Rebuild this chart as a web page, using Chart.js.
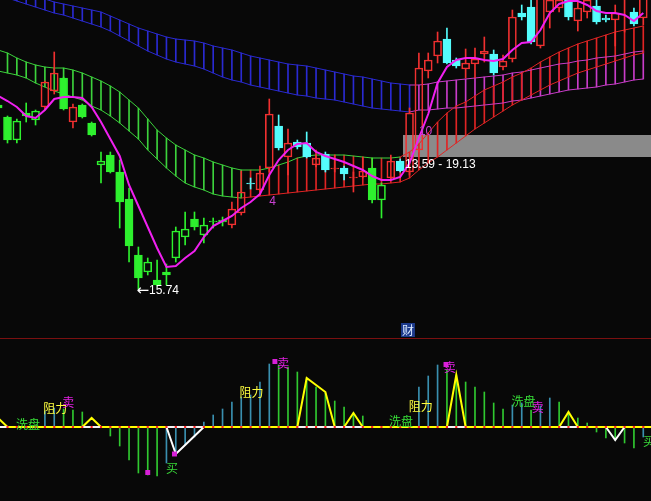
<!DOCTYPE html>
<html><head><meta charset="utf-8">
<script src="https://cdn.jsdelivr.net/npm/chart.js@4"></script>
<style>
html,body{margin:0;padding:0;background:#080808;overflow:hidden;width:651px;height:501px}
canvas{position:absolute;left:0}
#top{top:0}
#bot{top:338px}
</style></head><body>
<canvas id="top" width="651" height="338"></canvas>
<canvas id="bot" width="651" height="163"></canvas>
<script>
// ---------- price candles (index 0 is the partly visible first bar) ----------
const openP = [19.42,19.18,18.72,19.26,19.12,19.38,19.70,19.96,19.08,19.42,
19.06,18.22,18.42,18.08,17.54,16.42,16.08,15.92,16.08,16.36,
16.78,17.14,16.82,17.08,17.08,17.02,17.26,17.86,17.72,18.16,
19.00,18.38,18.68,18.66,18.22,18.44,18.14,18.16,17.96,17.98,
18.16,17.52,17.96,18.30,18.08,18.52,20.10,20.40,20.74,20.32,
20.14,20.24,20.44,20.44,20.18,20.34,21.26,21.38,20.60,21.28,
21.36,21.52,21.10,21.28,21.40,21.16,21.12,21.56,21.28,21.16];
const highP = [19.46,19.20,19.14,19.46,19.32,19.90,20.48,19.98,19.44,19.44,
19.08,18.48,18.48,18.32,17.76,16.58,16.36,16.32,16.24,16.98,
17.28,17.28,17.16,17.16,17.18,17.48,18.10,17.96,18.20,19.54,
19.22,18.94,18.72,18.88,18.52,18.48,18.42,18.20,18.08,18.38,
18.36,17.86,18.42,18.34,19.36,20.46,20.46,20.88,20.96,20.36,
20.54,20.56,20.78,20.52,20.42,21.32,21.42,21.52,21.72,21.62,
21.62,21.62,21.48,21.62,21.52,21.22,21.42,21.72,21.36,21.68];
const lowP = [19.32,18.66,18.66,19.08,19.02,19.32,19.64,19.32,18.96,19.16,
18.80,17.86,18.06,16.96,16.28,15.74,16.02,15.80,15.82,16.28,
16.62,16.92,16.66,16.96,17.00,16.96,17.22,17.74,17.68,18.08,
18.52,18.02,18.54,18.36,18.18,18.08,18.08,17.92,17.68,17.96,
17.46,17.16,17.92,18.08,18.02,18.48,19.96,20.26,20.24,20.16,
19.96,19.96,20.28,20.02,20.12,20.28,21.12,20.64,20.56,20.96,
21.28,21.12,20.90,21.16,21.04,21.08,20.60,20.88,21.00,21.02];
const closeP = [19.36,18.72,19.10,19.20,19.30,19.88,20.06,19.34,19.38,19.18,
18.82,18.30,18.08,17.48,16.60,15.96,16.28,15.82,16.02,16.90,
16.94,16.98,17.02,17.10,17.12,17.34,17.68,17.84,18.06,19.24,
18.56,18.66,18.58,18.38,18.36,18.12,18.16,18.04,17.98,18.10,
17.52,17.82,18.30,18.10,19.26,20.16,20.32,20.70,20.26,20.20,
20.26,20.34,20.50,20.06,20.30,21.18,21.18,20.68,21.56,21.52,
21.52,21.18,21.36,21.52,21.08,21.12,21.26,21.64,21.04,21.56];
// trend state per bar (1 = strong: red/cyan, 0 = weak: green)
const trend = [0,0,0,0,0,1,1,0,1,0,
0,0,0,0,0,0,0,0,0,0,
0,0,0,0,0,1,1,1,1,1,
1,1,1,1,1,1,1,1,1,1,
0,0,1,1,1,1,1,1,1,1,
1,1,1,1,1,1,1,1,1,1,
1,1,1,1,1,1,1,1,1,1];
// moving average
const maLine = [19.60,19.50,19.38,19.20,19.16,19.32,19.54,19.58,19.58,19.56,
19.38,19.08,18.74,18.40,17.82,17.40,16.98,16.56,16.18,16.20,
16.36,16.50,16.78,17.00,17.10,17.20,17.36,17.48,17.64,18.02,
18.32,18.52,18.64,18.66,18.48,18.40,18.34,18.28,18.20,18.12,
18.00,17.92,17.92,17.98,18.26,18.76,19.24,19.86,20.18,20.32,
20.36,20.36,20.32,20.30,20.34,20.52,20.66,20.68,20.92,21.26,
21.44,21.50,21.50,21.42,21.30,21.26,21.26,21.22,21.10,21.26];
// band A (green -> red)
const bandA1 = [20.52,20.46,20.36,20.28,20.22,20.18,20.16,20.16,20.12,20.06,
19.98,19.90,19.80,19.68,19.52,19.36,19.14,18.92,18.76,18.62,
18.52,18.42,18.36,18.28,18.22,18.16,18.12,18.12,18.12,18.16,
18.22,18.28,18.36,18.40,18.42,18.42,18.42,18.42,18.40,18.38,
18.36,18.36,18.36,18.38,18.48,18.64,18.86,19.08,19.26,19.40,
19.48,19.60,19.72,19.80,19.88,19.98,20.06,20.16,20.28,20.38,
20.48,20.56,20.64,20.70,20.76,20.82,20.88,20.92,20.96,21.00];
const bandA2 = [20.10,20.06,20.02,19.96,19.86,19.78,19.70,19.64,19.58,19.52,
19.40,19.32,19.20,19.06,18.90,18.74,18.52,18.34,18.16,18.00,
17.86,17.78,17.72,17.64,17.60,17.58,17.56,17.58,17.60,17.62,
17.64,17.66,17.68,17.70,17.72,17.74,17.76,17.78,17.80,17.82,
17.84,17.84,17.86,17.88,17.96,18.12,18.26,18.38,18.52,18.66,
18.80,18.94,19.06,19.18,19.30,19.42,19.52,19.62,19.72,19.82,
19.90,19.98,20.06,20.12,20.18,20.24,20.30,20.36,20.42,20.46];
// band B (blue -> magenta)
const bandB1 = [21.80,21.76,21.72,21.66,21.60,21.54,21.48,21.44,21.40,21.36,
21.32,21.28,21.20,21.12,21.04,20.96,20.90,20.84,20.78,20.74,
20.72,20.70,20.66,20.60,20.56,20.52,20.46,20.40,20.36,20.32,
20.28,20.24,20.22,20.20,20.16,20.12,20.08,20.04,20.00,19.98,
19.94,19.90,19.86,19.84,19.82,19.82,19.84,19.88,19.90,19.92,
19.94,19.96,19.98,20.00,20.02,20.06,20.08,20.12,20.16,20.20,
20.24,20.26,20.30,20.32,20.36,20.38,20.40,20.44,20.48,20.50];
const bandB2 = [21.62,21.56,21.50,21.44,21.38,21.32,21.26,21.22,21.16,21.10,
21.04,20.98,20.90,20.80,20.70,20.60,20.50,20.42,20.34,20.28,
20.24,20.20,20.14,20.06,19.98,19.92,19.88,19.82,19.78,19.74,
19.70,19.66,19.62,19.60,19.56,19.54,19.52,19.48,19.44,19.40,
19.36,19.34,19.32,19.30,19.28,19.32,19.32,19.34,19.36,19.36,
19.38,19.40,19.42,19.44,19.46,19.50,19.52,19.56,19.60,19.64,
19.68,19.72,19.74,19.76,19.78,19.82,19.84,19.88,19.92,19.94];
const cloudFlip = 27, upperFlip = 44, blueFlip = 45;   // first index of the second colour
// price range box and labels
const rangeBox = [18.82, 18.38];
const rangeBoxStart = 43.3;
const rangeLabel = ['13.59', '19.13'];
const rangeLabelVal = 18.23;
const markIdx = [29, 45];
const markVal = [17.49, 18.89];
const markText = ['4', '10'];
const tagIdx = 43.83, tagVal = 14.92, tagText = '财';

// ---------- lower indicator ----------
const osc = [0,0,0,0,0,1.6,1.9,1.8,1.7,1.5,
0,0,-0.9,-1.9,-3.3,-4.6,-4.8,-4.9,-3.6,-2.6,
-1.8,-1.0,0.5,1.2,1.8,2.5,3.0,3.2,4.5,6.3,
6.2,6.0,5.5,4.9,4.0,3.4,2.6,2.0,1.4,1.1,
0,0,0,0,0,4.0,5.1,6.2,5.7,5.2,
4.5,4.0,3.5,2.4,1.8,2.2,2.4,1.7,2.1,2.9,
2.5,1.4,0.9,0.4,-0.5,-1.1,-1.3,-1.6,-2.1,-1.0];
const wave = [0.9,0,0,0,0,0,0,0,0,0,
0.9,0,0,0,0,0,0,0,0,0,
0,0,0,0,0,0,0,0,0,0,
0,0,0,4.9,4.2,3.5,0,0,1.4,0,
0,0,0,0,0,0,0,0,0,5.2,
0,0,0,0,0,0,0,0,0,0,
0,1.5,0,0,0,0,0,0,0,0];
const dip = [null,null,null,null,null,null,null,null,null,null,
null,null,null,null,null,null,null,null,0,-2.7,
-1.8,-0.9,0,null,null,null,null,null,null,null,
null,null,null,null,null,null,null,null,null,null,
null,null,null,null,null,null,null,null,null,null,
null,null,null,null,null,null,null,null,null,null,
null,null,null,null,null,0,-1.3,0,null,null];
const sigText = ['洗盘','阻力','卖','买','阻力','卖','洗盘','阻力','卖','洗盘','卖','买'];
const sigIdx  = [3.2, 6.1, 7.5, 18.6, 27.1, 30.5, 43.1, 45.2, 48.3, 56.2, 57.7, 69.6];
const sigVal  = [0.25, 1.9, 2.45, -4.1, 3.45, 6.35, 0.55, 2.05, 5.95, 2.6, 1.95, -1.4];
const dotIdx = [16, 18.86, 29.6, 47.9];
const dotVal = [-4.55, -2.7, 6.55, 6.25];

// ---------- helpers ----------
const N = openP.length;
const idx = openP.map((_, k) => k);
const pts = arr => arr.map((v, k) => ({x: k, y: v}));
const RED = '#f03030', CYAN = '#54fcfc', GRN = '#2ef02e';
const candleColor = k => { const up = closeP[k] >= openP[k]; return trend[k] ? (up ? RED : CYAN) : GRN; };
const di = c => (c.dataIndex === undefined ? 0 : c.dataIndex);
const xScale = {type: 'linear', min: 0.198, max: 69.826, offset: false, display: false};
const common = {responsive: false, animation: false, devicePixelRatio: 1, events: [],
  layout: {padding: 0, autoPadding: false}, plugins: {legend: {display: false}, tooltip: {enabled: false}}};

const hatch = (lo, hi, flip, c1, c2, order) => ({type: 'bar', grouped: false, barThickness: 1, order,
  data: idx.map(k => ({x: k, y: [lo[k], hi[k]]})), borderWidth: 0,
  backgroundColor: c => di(c) < flip ? c1 : c2});
const bline = (arr, flip, c1, c2, order) => ({type: 'line', order, data: pts(arr), borderWidth: 1,
  pointRadius: 0, borderColor: c1, segment: {borderColor: c => c.p0DataIndex < flip - 1 ? c1 : c2}});

const BG = '#3cd23c', BR = '#e02424', BB = '#2a2ad2', BM = '#c83cc8';

const boxPlugin = {id: 'rangebox', beforeDatasetsDraw(ch) {
  const {ctx, scales: {x, y}, chartArea: a} = ch;
  const x0 = x.getPixelForValue(rangeBoxStart);
  const y0 = y.getPixelForValue(rangeBox[0]), y1 = y.getPixelForValue(rangeBox[1]);
  ctx.save(); ctx.fillStyle = '#8a8a8a'; ctx.fillRect(x0, y0, a.right - x0, y1 - y0); ctx.restore();
}};
const topText = {id: 'toptext', afterDatasetsDraw(ch) {
  const {ctx, scales: {x, y}} = ch;
  ctx.save();
  ctx.textBaseline = 'middle'; ctx.textAlign = 'left';
  // lowest low marker
  let km = 0; lowP.forEach((v, k) => { if (v < lowP[km]) km = k; });
  const lx = x.getPixelForValue(km) - 1, ly = y.getPixelForValue(lowP[km]) + 2;
  ctx.fillStyle = '#ffffff';
  ctx.font = '15px "DejaVu Sans", sans-serif';
  ctx.fillText('\u2190', lx - 1, ly);
  const aw = ctx.measureText('\u2190').width;
  ctx.font = '12px "Liberation Sans", Arial, sans-serif';
  ctx.fillText(lowP[km].toFixed(2), lx - 1 + aw, ly);
  // range label
  ctx.fillText(rangeLabel.join(' - '), x.getPixelForValue(rangeBoxStart) + 2, y.getPixelForValue(rangeLabelVal));
  // magenta counters
  ctx.fillStyle = '#c840d0';
  markText.forEach((t, i) => ctx.fillText(t, x.getPixelForValue(markIdx[i]), y.getPixelForValue(markVal[i])));
  // tag
  ctx.font = '12px "Noto Sans CJK SC", sans-serif';
  ctx.textAlign = 'center';
  const tx = x.getPixelForValue(tagIdx), ty = y.getPixelForValue(tagVal);
  ctx.fillStyle = '#1c3a8c'; ctx.fillRect(tx - 7, ty - 7, 14, 14);
  ctx.fillStyle = '#d8e8ff'; ctx.fillText(tagText, tx, ty);
  ctx.restore();
}};

new Chart(document.getElementById('top'), {
  type: 'bar',
  data: {datasets: [
    hatch(bandB2, bandB1, blueFlip, BB, BM, 12),
    hatch(bandA2, bandA1, cloudFlip, BG, BR, 11),
    bline(bandB1, blueFlip, BB, BM, 10),
    bline(bandB2, blueFlip, BB, BM, 10),
    bline(bandA1, upperFlip, BG, BR, 9),
    bline(bandA2, cloudFlip, BG, BR, 9),
    {type: 'bar', grouped: false, barThickness: 1, order: 6, borderWidth: 0,
      data: idx.map(k => ({x: k, y: [Math.max(openP[k], closeP[k]), highP[k]]})),
      backgroundColor: c => candleColor(di(c))},
    {type: 'bar', grouped: false, barThickness: 1, order: 6, borderWidth: 0,
      data: idx.map(k => ({x: k, y: [lowP[k], Math.min(openP[k], closeP[k])]})),
      backgroundColor: c => candleColor(di(c))},
    {type: 'bar', grouped: false, barThickness: 8, order: 5, borderWidth: 1, borderSkipped: false, minBarLength: 1,
      data: idx.map(k => ({x: k, y: [openP[k], closeP[k]]})),
      borderColor: c => candleColor(di(c)),
      backgroundColor: c => { const k = di(c); return closeP[k] >= openP[k] ? 'rgba(0,0,0,0)' : candleColor(k); }},
    {type: 'line', order: 1, data: pts(maLine), borderColor: '#f020f0', borderWidth: 2, pointRadius: 0}
  ]},
  options: Object.assign({}, common, {scales: {x: xScale, y: {display: false, min: 14.76, max: 21.52, beginAtZero: false}}}),
  plugins: [boxPlugin, topText]
});

// ---------- lower panel ----------
const whiteBase = idx.map(k => (wave[k] > 0 || (wave[k - 1] || 0) > 0 || (wave[k + 1] || 0) > 0 || (dip[k] !== null && k < 30)) ? 0 : null);
const sigColor = {'洗盘': '#38e038', '阻力': '#ffff40', '卖': '#e020e0', '买': '#38d838'};
const botPlugin = {id: 'bot', beforeDatasetsDraw(ch) {
  const {ctx, scales: {y}, chartArea: a} = ch;
  ctx.save();
  ctx.fillStyle = '#7a1010'; ctx.fillRect(a.left, a.top, a.right - a.left, 1);
  ctx.strokeStyle = '#ffff00'; ctx.lineWidth = 2;
  const y0 = y.getPixelForValue(0);
  ctx.beginPath(); ctx.moveTo(a.left, y0); ctx.lineTo(a.right, y0); ctx.stroke();
  ctx.restore();
}, afterDatasetsDraw(ch) {
  const {ctx, scales: {x, y}} = ch;
  ctx.save();
  ctx.font = '12px "Noto Sans CJK SC", sans-serif';
  ctx.textAlign = 'center'; ctx.textBaseline = 'middle';
  sigText.forEach((t, i) => { ctx.fillStyle = sigColor[t]; ctx.fillText(t, x.getPixelForValue(sigIdx[i]), y.getPixelForValue(sigVal[i])); });
  ctx.restore();
}};

new Chart(document.getElementById('bot'), {
  type: 'bar',
  data: {datasets: [
    {type: 'bar', grouped: false, barThickness: 1, order: 8, borderWidth: 0,
      data: idx.map(k => ({x: k, y: osc[k]})),
      backgroundColor: c => { const k = di(c); return osc[k] > (k > 0 ? osc[k - 1] : 0) ? '#3a90b0' : '#30c830'; }},
    {type: 'line', order: 4, data: pts(wave), borderColor: '#ffff00', borderWidth: 2, pointRadius: 0},
    {type: 'line', order: 3, data: pts(whiteBase), borderColor: '#f4f4f4', borderWidth: 2, pointRadius: 0, spanGaps: false},
    {type: 'line', order: 2, data: pts(dip), borderColor: '#ffffff', borderWidth: 2, pointRadius: 0, spanGaps: false},
    {type: 'line', order: 1, data: idx.map(k => ({x: k, y: 0})), showLine: false, pointStyle: 'rect',
      pointRadius: 1.5, pointBorderWidth: 0, pointBackgroundColor: '#ff2020'},
    {type: 'line', order: 0, data: dotIdx.map((v, i) => ({x: v, y: dotVal[i]})), showLine: false, pointStyle: 'rect',
      pointRadius: 3.5, pointBorderWidth: 0, pointBackgroundColor: '#d820d8'}
  ]},
  options: Object.assign({}, common, {scales: {x: xScale, y: {display: false, min: -7.4, max: 8.9, beginAtZero: false}}}),
  plugins: [botPlugin]
});
</script>
</body></html>
